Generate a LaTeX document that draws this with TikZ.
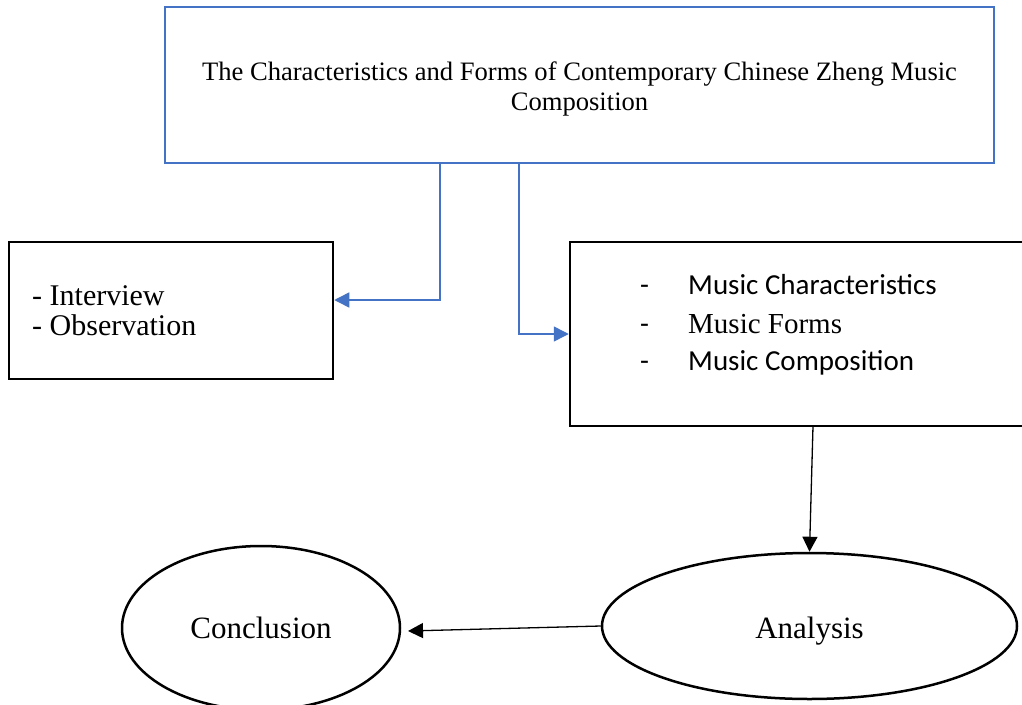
\documentclass[tikz,border=0pt]{standalone}
\usepackage{fontspec}
\setmainfont{Liberation Serif}
\newfontfamily\calibri{Carlito}
\usetikzlibrary{arrows.meta,shapes.geometric}
\definecolor{wordblue}{RGB}{68,114,196}
\tikzset{
  box/.style={draw=black,line width=2.5pt,rectangle,inner sep=0pt},
  bluebox/.style={draw=wordblue,line width=2.6pt,rectangle,inner sep=0pt},
  oval/.style={draw=black,line width=2.5pt,ellipse,inner sep=0pt},
  txt/.style={inner sep=0pt,anchor=base west,font=\fontsize{30}{30}\selectfont},
  titletxt/.style={inner sep=0pt,anchor=base,font=\fontsize{26.6}{30}\selectfont},
  caltxt/.style={inner sep=0pt,anchor=base west,font=\calibri\fontsize{29}{29}\selectfont},
  bluearr/.style={draw=wordblue,line width=1.5pt,-{Triangle[length=15pt,width=15pt]}},
  blackarr/.style={draw=black,line width=1.3pt,-{Triangle[length=15pt,width=15pt]}}
}
\begin{document}
\begin{tikzpicture}[x=1pt,y=-1pt]
\clip (0,0) rectangle (1022,704);
\fill[white] (0,0) rectangle (1022,704);
% boxes
\node[bluebox,minimum width=829pt,minimum height=156pt] (top) at (579.5,85) {};
\node[titletxt] (t1) at (579.5,80) {The Characteristics and Forms of Contemporary Chinese Zheng Music};
\node[titletxt] (t2) at (579.5,110) {Composition};
\node[box,minimum width=324pt,minimum height=137pt] (left) at (171,310.5) {};
\node[txt] (l1) at (32,305) {- Interview};
\node[txt] (l2) at (32,335) {- Observation};
\node[box,minimum width=470pt,minimum height=184pt] (right) at (805,334) {};
\node[caltxt] (d1) at (640,294) {-};
\node[caltxt] (d2) at (640,333) {-};
\node[caltxt] (d3) at (640,370) {-};
\node[caltxt] (r1) at (688,294) {Music Characteristics};
\node[txt,font=\fontsize{29}{29}\selectfont] (r2) at (688,333) {Music Forms};
\node[caltxt] (r3) at (688,370) {Music Composition};
% ellipses
\node[oval,minimum width=278pt,minimum height=164pt] (conc) at (261,628) {};
\node[inner sep=0pt,anchor=base,font=\fontsize{31}{31}\selectfont] (concl) at (261,638) {Conclusion};
\node[oval,minimum width=415pt,minimum height=146pt] (ana) at (809.5,626) {};
\node[inner sep=0pt,anchor=base,font=\fontsize{31}{31}\selectfont] (anal) at (809.5,638) {Analysis};
% connectors
\coordinate (cl) at (440,163);
\coordinate (cr) at (519,163);
\draw[bluearr] (top.south -| cl) -- (cl |- 300,300) -- (left.east |- 300,300);
\draw[bluearr] (top.south -| cr) -- (cr |- 334,334) -- (right.west |- 334,334);
\coordinate (rs) at (813,426);
\draw[blackarr] (rs) -- (ana.north);
\coordinate (ce) at (408,631);
\draw[blackarr] (ana.west) -- (ce);
\end{tikzpicture}
\end{document}
